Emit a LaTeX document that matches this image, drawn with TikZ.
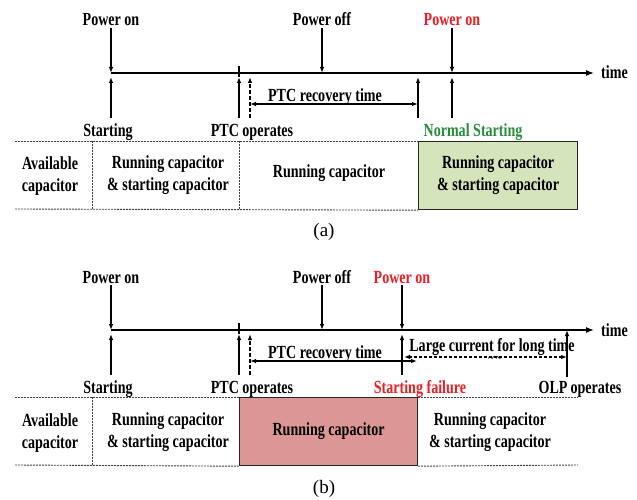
\documentclass[tikz,border=0pt]{standalone}
\usepackage{fontspec}
\setmainfont[FakeStretch=0.76]{Liberation Serif}
\newfontfamily\capfont{Liberation Serif}
\usetikzlibrary{arrows.meta}
\definecolor{redtxt}{RGB}{236,30,36}
\definecolor{greentxt}{RGB}{40,140,60}
\definecolor{greenfill}{RGB}{214,228,188}
\definecolor{redfill}{RGB}{221,150,150}
\tikzset{
  lbl/.style={font=\fontsize{18.5}{22}\selectfont\bfseries, inner sep=0pt, align=center},
  arr/.style={line width=1.1pt, -{Latex[length=6pt,width=4.5pt]}},
  darr/.style={arr, dash pattern=on 4pt off 2pt},
  biarr/.style={line width=1.1pt, {Latex[length=6pt,width=4.5pt]}-{Latex[length=6pt,width=4.5pt]}},
  dbiarr/.style={biarr, dash pattern=on 3pt off 2pt},
  axisline/.style={line width=1.2pt, -{Latex[length=8pt,width=6pt]}},
  tbl/.style={line width=0.9pt, dash pattern=on 2pt off 1pt, black!75},
  capbox/.style={draw=black!85, line width=1.2pt, inner sep=0pt, anchor=north west,
     font=\fontsize{18.5}{22}\selectfont\bfseries, align=center},
  subcap/.style={font=\capfont\fontsize{19}{22}\selectfont, inner sep=0pt},
}
\begin{document}
\begin{tikzpicture}[x=1pt,y=-1pt]
\useasboundingbox (0,0) rectangle (637,500);

% ================= (a) =================
\coordinate (a-ax) at (0,73);
\coordinate (a-lo) at (0,118);
\coordinate (a-hi) at (0,77);
\coordinate (a-top) at (0,66);
\coordinate (a-r) at (0,104);
\coordinate (a-axs) at (111,73);
\coordinate (a-axe) at (594,73);
\coordinate (a-e1) at (111,0);
\coordinate (a-e2) at (239,0);
\coordinate (a-e3) at (250,0);
\coordinate (a-e4) at (418,0);
\coordinate (a-e5) at (452,0);
\draw[axisline] (a-axs) -- (a-axe);
\node[lbl,anchor=base west] (a-time) at (601,79) {time};

\node[lbl,anchor=base] (a-pon) at (111,26) {Power on};
\node[lbl,anchor=base] (a-poff) at (322,26) {Power off};
\node[lbl,anchor=base,text=redtxt] (a-pon2) at (452,26) {Power on};
\draw[arr] ([yshift=-2pt]a-pon.south) -- (a-pon.south |- a-ax);
\draw[arr] ([yshift=-2pt]a-poff.south) -- (a-poff.south |- a-ax);
\draw[arr] ([yshift=-2pt]a-pon2.south) -- (a-pon2.south |- a-ax);

\draw[arr] (a-e1 |- a-lo) -- (a-e1 |- a-hi);
\draw[arr] (a-e2 |- a-lo) -- (a-e2 |- a-hi);
\draw[line width=1.1pt] (a-e2 |- a-hi) -- (a-e2 |- a-top);
\draw[darr] (a-e3 |- a-lo) -- (a-e3 |- a-hi);
\draw[arr] (a-e4 |- a-lo) -- (a-e4 |- a-hi);
\draw[arr] (a-e5 |- a-lo) -- (a-e5 |- a-hi);

\draw[biarr] (a-e3 |- a-r) -- (a-e4 |- a-r);
\node[lbl,anchor=base] (a-rt) at (325,102) {PTC recovery time};

\node[lbl,anchor=base] (a-st) at (108,136) {Starting};
\node[lbl,anchor=base] (a-ptc) at (252,136) {PTC operates};
\node[lbl,anchor=base,text=greentxt] (a-ns) at (473,136) {Normal Starting};

\coordinate (a-tl) at (15,141);
\coordinate (a-bl) at (15,209);
\coordinate (a-v1) at (92,0);
\node[capbox,fill=greenfill,minimum width=159pt,minimum height=68pt] (a-g) at (418,141)
  {Running capacitor\\\& starting capacitor};
\draw[tbl] (a-tl) -- (a-g.north west);
\draw[tbl] (a-bl) -- (a-g.south west);
\draw[tbl] (a-v1 |- a-tl) -- (a-v1 |- a-bl);
\draw[tbl] (a-e2 |- a-tl) -- (a-e2 |- a-bl);

\node[lbl] (a-av) at (50,176) {Available\\capacitor};
\node[lbl] (a-rs) at (168,175) {Running capacitor\\\& starting capacitor};
\node[lbl] (a-rc) at (329,173) {Running capacitor};
\node[subcap] (a-cap) at (324,232) {(a)};

% ================= (b) =================
\coordinate (b-ax) at (0,330);
\coordinate (b-lo) at (0,375);
\coordinate (b-hi) at (0,334);
\coordinate (b-top) at (0,323);
\coordinate (b-r) at (0,361);
\coordinate (b-lc) at (0,357);
\coordinate (b-axs) at (111,330);
\coordinate (b-axe) at (594,330);
\coordinate (b-e1) at (111,0);
\coordinate (b-e2) at (239,0);
\coordinate (b-e3) at (250,0);
\coordinate (b-e4) at (417,0);
\coordinate (b-e5) at (402,0);
\coordinate (b-e5b) at (404,0);
\coordinate (b-e6) at (567,0);
\coordinate (b-olpl) at (0,377);
\coordinate (b-olph) at (0,330);
\draw[axisline] (b-axs) -- (b-axe);
\node[lbl,anchor=base west] (b-time) at (601,336) {time};

\node[lbl,anchor=base] (b-pon) at (111,283) {Power on};
\node[lbl,anchor=base] (b-poff) at (322,283) {Power off};
\node[lbl,anchor=base,text=redtxt] (b-pon2) at (402,283) {Power on};
\draw[arr] ([yshift=-2pt]b-pon.south) -- (b-pon.south |- b-ax);
\draw[arr] ([yshift=-2pt]b-poff.south) -- (b-poff.south |- b-ax);
\draw[arr] ([yshift=-2pt]b-pon2.south) -- (b-pon2.south |- b-ax);

\draw[arr] (b-e1 |- b-lo) -- (b-e1 |- b-hi);
\draw[arr] (b-e2 |- b-lo) -- (b-e2 |- b-hi);
\draw[line width=1.1pt] (b-e2 |- b-hi) -- (b-e2 |- b-top);
\draw[darr] (b-e3 |- b-lo) -- (b-e3 |- b-hi);
\draw[arr] (b-e5 |- b-lo) -- (b-e5 |- b-hi);
\draw[arr] (b-e6 |- b-olpl) -- (b-e6 |- b-olph);

\draw[biarr] (b-e3 |- b-r) -- (b-e4 |- b-r);
\node[lbl,anchor=base] (b-rt) at (325,358) {PTC recovery time};
\draw[dbiarr] (b-e5b |- b-lc) -- (b-e6 |- b-lc);
\node[lbl,anchor=base] (b-lct) at (492,351) {Large current for long time};
\node[font=\fontsize{14}{14}\selectfont\bfseries, inner sep=0pt, anchor=north] (b-tl) at (495,356)
  {\textasciitilde\hspace{2pt}\textasciitilde};

\node[lbl,anchor=base] (b-st) at (108,393) {Starting};
\node[lbl,anchor=base] (b-ptc) at (252,393) {PTC operates};
\node[lbl,anchor=base,text=redtxt] (b-sf) at (420,393) {Starting failure};
\node[lbl,anchor=base] (b-olp) at (580,393) {OLP\hspace{3pt}operates};

\coordinate (b-tl0) at (15,397);
\coordinate (b-bl0) at (15,465);
\coordinate (b-tr) at (578,397);
\coordinate (b-br) at (578,465);
\coordinate (b-v1) at (92,0);
\node[capbox,fill=redfill,minimum width=178pt,minimum height=68pt] (b-rb) at (239,397)
  {Running capacitor};
\draw[tbl] (b-tl0) -- (b-rb.north west);
\draw[tbl] (b-bl0) -- (b-rb.south west);
\draw[tbl] (b-rb.north east) -- (b-tr);
\draw[tbl] (b-rb.south east) -- (b-br);
\draw[tbl] (b-v1 |- b-tl0) -- (b-v1 |- b-bl0);

\node[lbl] (b-av) at (50,433) {Available\\capacitor};
\node[lbl] (b-rs) at (168,432) {Running capacitor\\\& starting capacitor};
\node[lbl] (b-rs2) at (490,432) {Running capacitor\\\& starting capacitor};
\node[subcap] (b-cap) at (324,489) {(b)};
\end{tikzpicture}
\end{document}
